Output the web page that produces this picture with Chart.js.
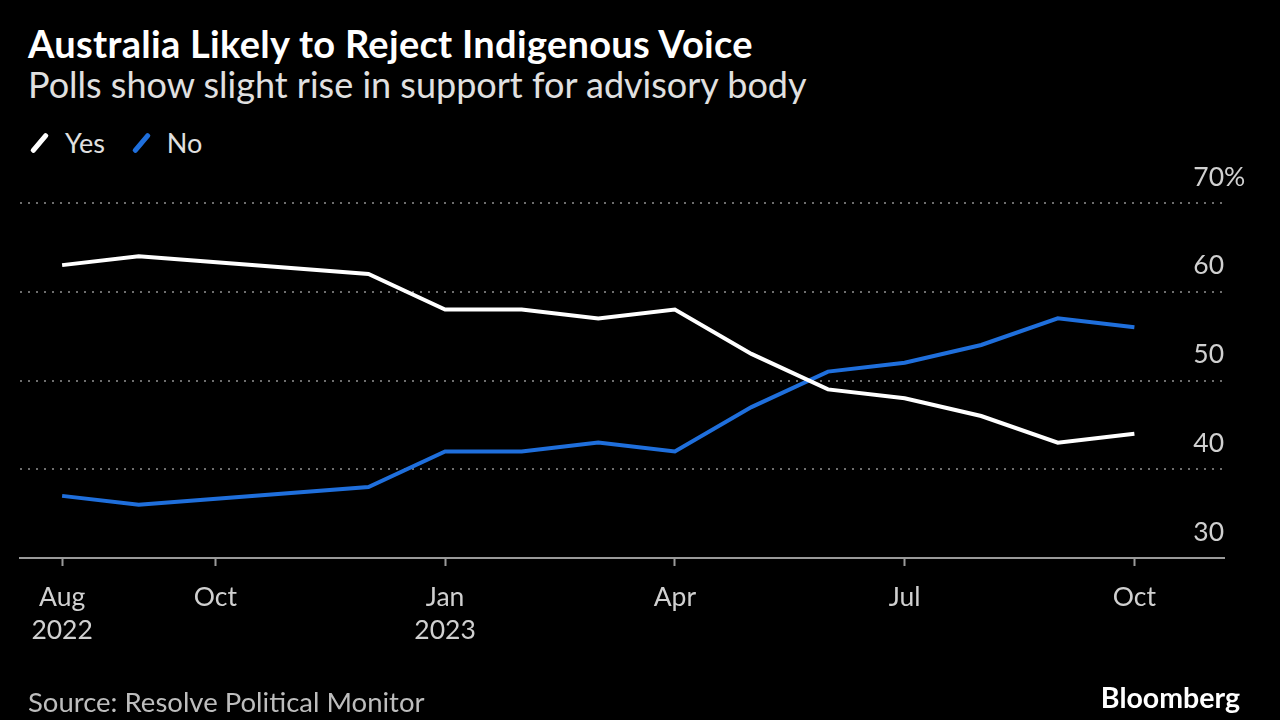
<!DOCTYPE html>
<html>
<head>
<meta charset="utf-8">
<script src="https://cdn.jsdelivr.net/npm/chart.js@4.4.0/dist/chart.umd.min.js"></script>
<style>
  html, body { margin: 0; padding: 0; background: #000; }
  body { width: 1280px; height: 720px; position: relative; overflow: hidden; font-family: Lato, "Noto Sans", sans-serif; }
  #chart { position: absolute; left: 0; top: 0; }
  .title { position: absolute; left: 28px; top: 24px; line-height: 38px; color: #fff; font-weight: 700; font-size: 38px; letter-spacing: 0.3px; white-space: nowrap; }
  .subtitle { position: absolute; left: 28px; top: 66px; line-height: 36px; color: #e0e0e0; font-size: 36px; white-space: nowrap; }
  .legend { position: absolute; left: 28px; top: 129px; line-height: 27px; color: #e0e0e0; font-size: 27px; display: flex; align-items: center; }
  .legend .item { display: flex; align-items: center; margin-right: 25px; }
  .legend .swatch { width: 5px; height: 24px; border-radius: 2px; transform: rotate(40deg); margin: 0 23px 0 9px; }
  .source { position: absolute; left: 28px; top: 688px; line-height: 28px; color: #bdbdbd; font-size: 27.5px; white-space: nowrap; }
  .brand { position: absolute; right: 40px; top: 683px; line-height: 29px; color: #fff; font-weight: 700; font-size: 28.5px; }
</style>
</head>
<body>
<div class="title">Australia Likely to Reject Indigenous Voice</div>
<div class="subtitle">Polls show slight rise in support for advisory body</div>
<div class="legend">
  <div class="item"><span class="swatch" style="background:#ffffff"></span>Yes</div>
  <div class="item"><span class="swatch" style="background:#1f6fdc"></span>No</div>
</div>
<canvas id="chart" width="1280" height="720"></canvas>
<div class="source">Source: Resolve Political Monitor</div>
<div class="brand">Bloomberg</div>

<script>
// months since Aug 2022
const months = [0, 1, 4, 5, 6, 7, 8, 9, 10, 11, 12, 13, 14];
const yesValues = [63, 64, 62, 58, 58, 57, 58, 53, 49, 48, 46, 43, 44];
const noValues = [37, 36, 38, 42, 42, 43, 42, 47, 51, 52, 54, 57, 56];

const tickMonths = [0, 2, 5, 8, 11, 14];
const tickLabels = [['Aug', '2022'], 'Oct', ['Jan', '2023'], 'Apr', 'Jul', 'Oct'];
const yTicks = [30, 40, 50, 60, 70];

const toPoints = vals => vals.map((v, i) => ({ x: months[i], y: v }));

// y labels sit above their gridlines at the right edge
const yLabelPlugin = {
    id: 'yLabels',
    afterDraw(chart) {
        const ctx = chart.ctx;
        const y = chart.scales.y;
        const right = chart.chartArea.right;
        ctx.save();
        ctx.font = '26.5px Lato, "Noto Sans", sans-serif';
        ctx.fillStyle = '#d0d0d0';
        ctx.textBaseline = 'middle';
        yTicks.forEach(v => {
            const py = y.getPixelForValue(v) - 26;
            ctx.textAlign = 'right';
            ctx.fillText(String(v), right, py);
            if (v === 70) {
                ctx.textAlign = 'left';
                ctx.fillText('%', right, py);
            }
        });
        ctx.restore();
    }
};

new Chart(document.getElementById('chart'), {
    type: 'line',
    data: {
        datasets: [
            { label: 'Yes', data: toPoints(yesValues), borderColor: '#ffffff', borderWidth: 4, pointRadius: 0, tension: 0 },
            { label: 'No', data: toPoints(noValues), borderColor: '#1f6fdc', borderWidth: 4, pointRadius: 0, tension: 0 }
        ]
    },
    options: {
        responsive: false,
        animation: false,
        events: [],
        layout: { padding: { left: 20, right: 56, top: 203, bottom: 62 } },
        plugins: { legend: { display: false }, tooltip: { enabled: false } },
        scales: {
            x: {
                type: 'linear',
                min: -0.55,
                max: 15.17,
                afterFit: s => { s.height = 100; },
                afterBuildTicks: s => { s.ticks = tickMonths.map(v => ({ value: v })); },
                ticks: {
                    autoSkip: false,
                    maxRotation: 0,
                    padding: 14,
                    color: '#d0d0d0',
                    font: { family: 'Lato, "Noto Sans", sans-serif', size: 26.5, lineHeight: 1.28 },
                    callback: (v, i) => tickLabels[i]
                },
                grid: { drawOnChartArea: false, tickLength: 8, tickColor: '#9a9a9a', tickWidth: 2 },
                border: { color: '#9a9a9a', width: 2 }
            },
            y: {
                position: 'right',
                min: 30,
                max: 70,
                afterFit: s => { s.width = 0; },
                afterBuildTicks: s => { s.ticks = yTicks.map(v => ({ value: v })); },
                ticks: { display: false },
                grid: {
                    color: ctx => ctx.tick && ctx.tick.value === 30 ? 'rgba(0,0,0,0)' : '#6e6e6e',
                    lineWidth: 2,
                    drawTicks: false
                },
                border: { display: false, dash: [2, 6] }
            }
        }
    },
    plugins: [yLabelPlugin]
});
</script>
</body>
</html>
